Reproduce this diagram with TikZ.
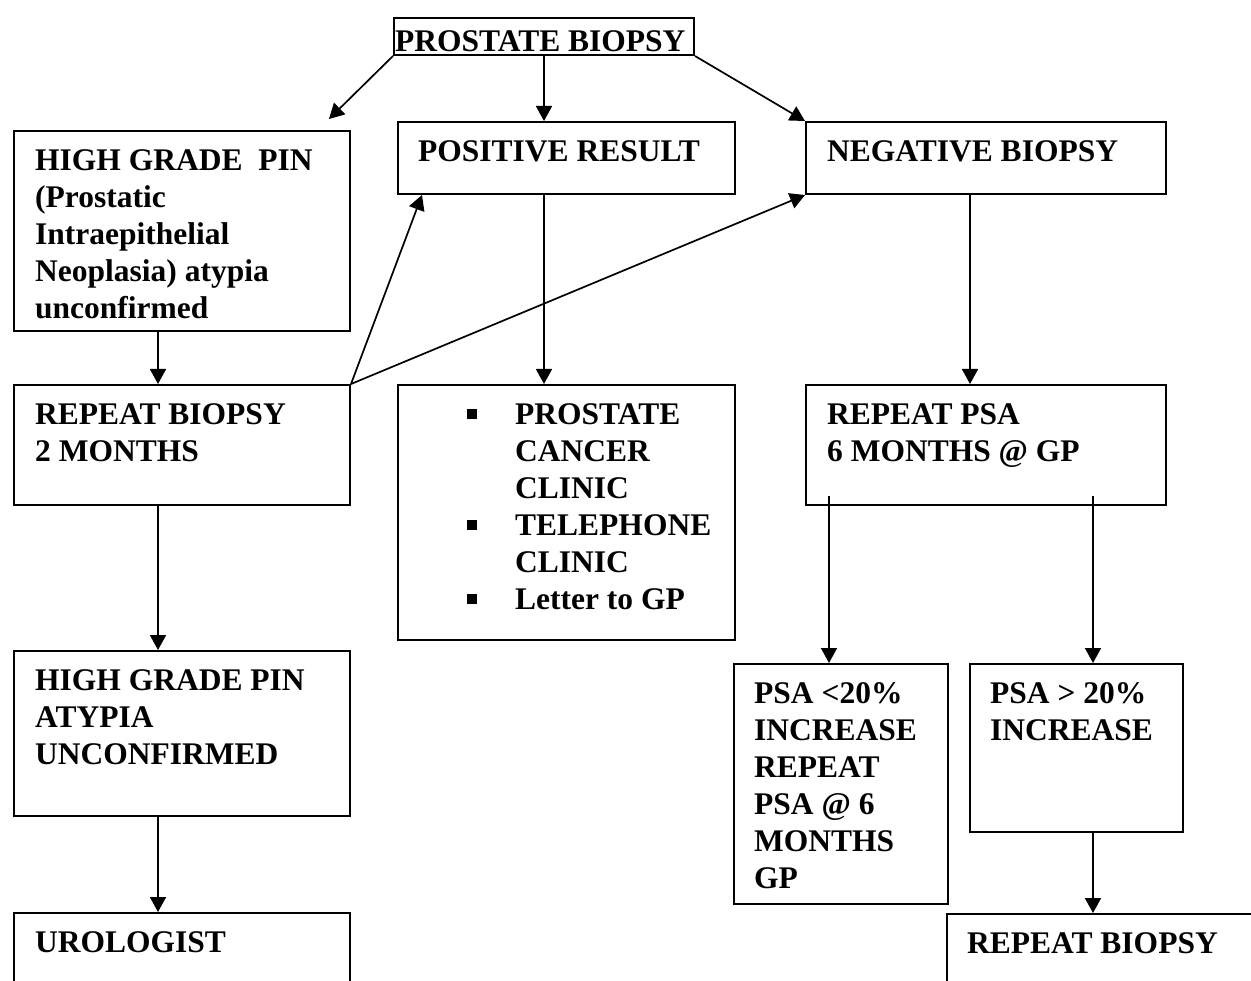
\documentclass[tikz,border=0pt]{standalone}
\usepackage{fontspec}
\setmainfont{Liberation Serif}
\usetikzlibrary{arrows.meta}
\newcommand{\sqbul}{\makebox[48pt][l]{\rule[5pt]{10pt}{10pt}}}
\newcommand{\sqgap}{\hspace*{48pt}}

\begin{document}
\begin{tikzpicture}[x=1pt,y=-1pt,
  box/.style={draw,line width=2pt,inner sep=0,anchor=north west},
  txt/.style={inner sep=0,anchor=north west,align=left,font=\fontsize{31.5}{37}\selectfont\bfseries},
  arr/.style={-{Triangle[length=15pt,width=16pt]},line width=1.7pt}]
\useasboundingbox (0,0) rectangle (1251,981);
\clip (0,0) rectangle (1251,981);
% boxes
\node[box,minimum width=300pt,minimum height=37pt] (biopsy) at (393,17) {};
\node[box,minimum width=336pt,minimum height=200pt] (hgpin) at (13,130) {};
\node[box,minimum width=337pt,minimum height=72pt] (positive) at (397,121) {};
\node[box,minimum width=360pt,minimum height=72pt] (negative) at (805,121) {};
\node[box,minimum width=336pt,minimum height=120pt] (repeat) at (13,384) {};
\node[box,minimum width=337pt,minimum height=255pt] (clinic) at (397,384) {};
\node[box,minimum width=360pt,minimum height=120pt] (repsa) at (805,384) {};
\node[box,minimum width=336pt,minimum height=165pt] (hgpin2) at (13,650) {};
\node[box,minimum width=214pt,minimum height=240pt] (psalow) at (733,663) {};
\node[box,minimum width=213pt,minimum height=168pt] (psahigh) at (969,663) {};
\node[box,minimum width=336pt,minimum height=150pt] (urol) at (13,912) {};
\node[box,minimum width=340pt,minimum height=150pt] (rebiopsy) at (946,913) {};
% texts
\node[txt] (biopsy-t) at ([shift={(2,8)}]biopsy.north west) {\strut PROSTATE BIOPSY};
\node[txt] (hgpin-t) at ([shift={(22,14)}]hgpin.north west) {\strut HIGH GRADE~ PIN\\(Prostatic\\Intraepithelial\\Neoplasia) atypia\\unconfirmed};
\node[txt] (positive-t) at ([shift={(21,14)}]positive.north west) {\strut POSITIVE RESULT};
\node[txt] (negative-t) at ([shift={(22,14)}]negative.north west) {\strut NEGATIVE BIOPSY};
\node[txt] (repeat-t) at ([shift={(22,14)}]repeat.north west) {\strut REPEAT BIOPSY\\2 MONTHS};
\node[txt] (clinic-t) at ([shift={(70,14)}]clinic.north west) {\strut\sqbul PROSTATE\\\sqgap CANCER\\\sqgap CLINIC\\\sqbul TELEPHONE\\\sqgap CLINIC\\\sqbul Letter to GP};
\node[txt] (repsa-t) at ([shift={(22,14)}]repsa.north west) {\strut REPEAT PSA\\6 MONTHS @ GP};
\node[txt] (hgpin2-t) at ([shift={(22,14)}]hgpin2.north west) {\strut HIGH GRADE PIN\\ATYPIA\\UNCONFIRMED};
\node[txt] (psalow-t) at ([shift={(21,14)}]psalow.north west) {\strut PSA <20\%\\INCREASE\\REPEAT\\PSA @ 6\\MONTHS\\GP};
\node[txt] (psahigh-t) at ([shift={(21,14)}]psahigh.north west) {\strut PSA > 20\%\\INCREASE};
\node[txt] (urol-t) at ([shift={(22,14)}]urol.north west) {\strut UROLOGIST};
\node[txt] (rebiopsy-t) at ([shift={(21,14)}]rebiopsy.north west) {\strut REPEAT BIOPSY};
% connectors
\coordinate (lowsplit) at ([shift={(24,-10)}]repsa.south west);
\coordinate (highsplit) at ([shift={(288,-10)}]repsa.south west);
\draw[arr] (biopsy.south west) -- ([shift={(-22,-11)}]hgpin.north east);
\draw[arr] (biopsy.south) -- (biopsy.south |- positive.north);
\draw[arr] (biopsy.south east) -- (negative.north west);
\draw[arr] ([xshift=-24pt]hgpin.south) -- ([xshift=-24pt]repeat.north);
\draw[arr] (repeat.north east) -- ([xshift=25pt]positive.south west);
\draw[arr] (repeat.north east) -- (negative.south west);
\draw[arr] (biopsy.south |- positive.south) -- (biopsy.south |- clinic.north);
\draw[arr] ([xshift=-16pt]negative.south) -- ([xshift=-16pt]repsa.north);
\draw[arr] (lowsplit) -- (lowsplit |- psalow.north);
\draw[arr] (highsplit) -- (highsplit |- psahigh.north);
\draw[arr] ([xshift=-24pt]repeat.south) -- ([xshift=-24pt]hgpin2.north);
\draw[arr] ([xshift=-24pt]hgpin2.south) -- ([xshift=-24pt]urol.north);
\draw[arr] (psahigh.south -| highsplit) -- (rebiopsy.north -| highsplit);
\end{tikzpicture}
\end{document}
